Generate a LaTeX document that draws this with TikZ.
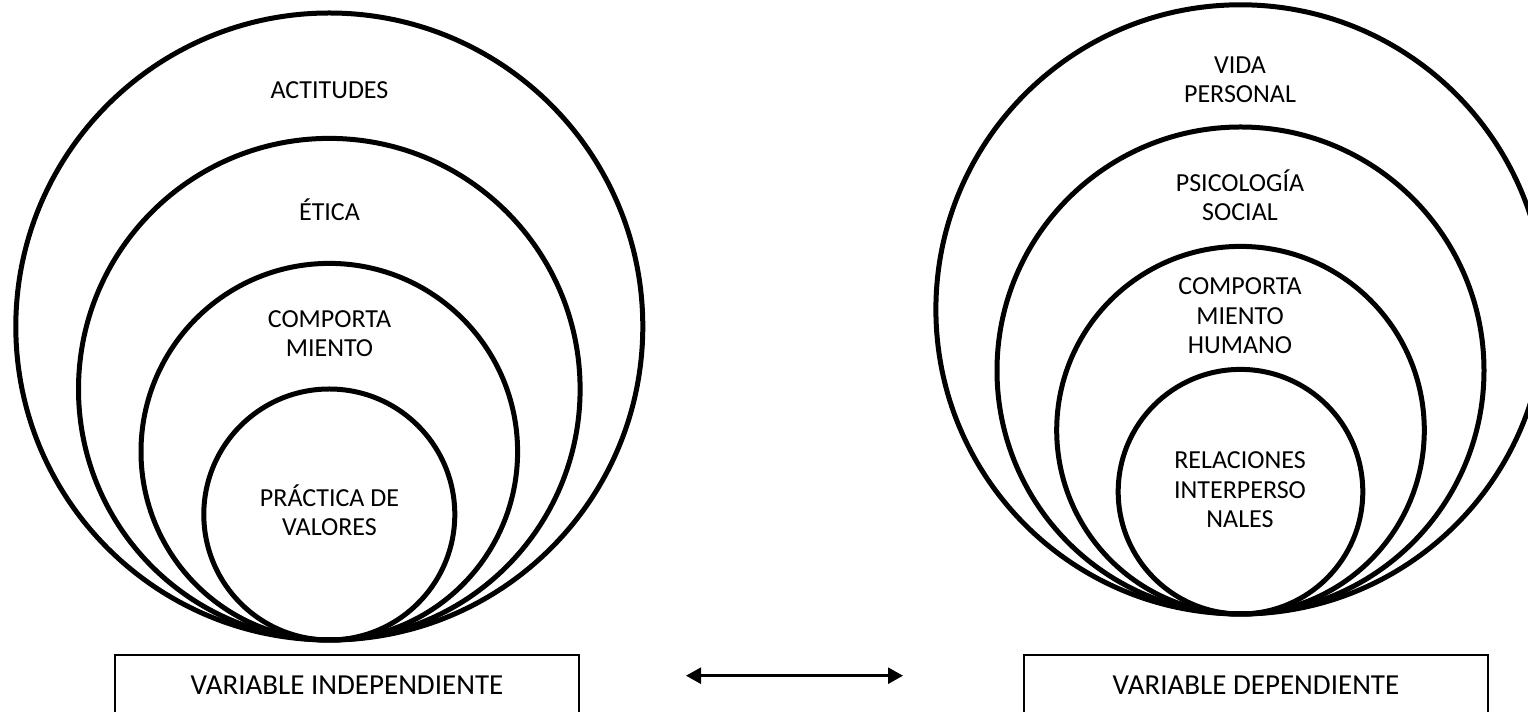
\documentclass[tikz,border=0pt]{standalone}
\usepackage{fontspec}
\setmainfont{Carlito}
\usetikzlibrary{arrows.meta}

\tikzset{
  ring/.style={line width=2.5pt},
  lbl/.style={font=\fontsize{13}{14.6}\selectfont,align=center,inner sep=0pt,
    text height=8.4pt,text depth=0pt},
  varbox/.style={draw,line width=1pt,minimum width=232pt,minimum height=30pt,
    inner sep=0pt,font=\fontsize{14.5}{17}\selectfont}
}

\begin{document}
\begin{tikzpicture}[x=0.5pt,y=0.5pt]
\useasboundingbox (0,0) rectangle (1528,712);
\clip (0,0) rectangle (1528,712);

% left: independent variable
\coordinate (lbase) at (329.3,72);
\draw[ring] (329.3,385.5) circle (313.5);
\draw[ring] (329.3,322.8) circle (250.8);
\draw[ring] (329.3,260.3) circle (188.3);
\draw[ring] (329.3,197.5) circle (125.5);
\node[lbl] (actitudes) at (329.5,622) {ACTITUDES};
\node[lbl] (etica) at (329.5,499.5) {ÉTICA};
\node[lbl] (comportl) at (329.5,364) {COMPORTA\\MIENTO};
\node[lbl] (practica) at (329.5,185) {PRÁCTICA DE\\VALORES};

% right: dependent variable
\coordinate (rbase) at (1240.5,98);
\draw[ring] (1240.5,402.6) circle (304.6);
\draw[ring] (1240.5,341.5) circle (243.5);
\draw[ring] (1240.5,281.8) circle (183.8);
\draw[ring] (1240.5,220.3) circle (122.3);
\node[lbl] (vida) at (1240,618) {VIDA\\PERSONAL};
\node[lbl] (psico) at (1240,499.5) {PSICOLOGÍA\\SOCIAL};
\node[lbl] (comportr) at (1240,367) {COMPORTA\\MIENTO\\HUMANO};
\node[lbl] (relac) at (1240,193) {RELACIONES\\INTERPERSO\\NALES};

% boxes and arrow
\node[varbox] (indep) at (347,27) {VARIABLE INDEPENDIENTE};
\node[varbox] (dep) at (1256,27) {VARIABLE DEPENDIENTE};
\coordinate (al) at (686,36.3);
\coordinate (ar) at (903,36.3);
\draw[{Triangle[length=7.5pt,width=8pt]}-{Triangle[length=7.5pt,width=8pt]},line width=1.3pt] (al) -- (ar);
\end{tikzpicture}
\end{document}
